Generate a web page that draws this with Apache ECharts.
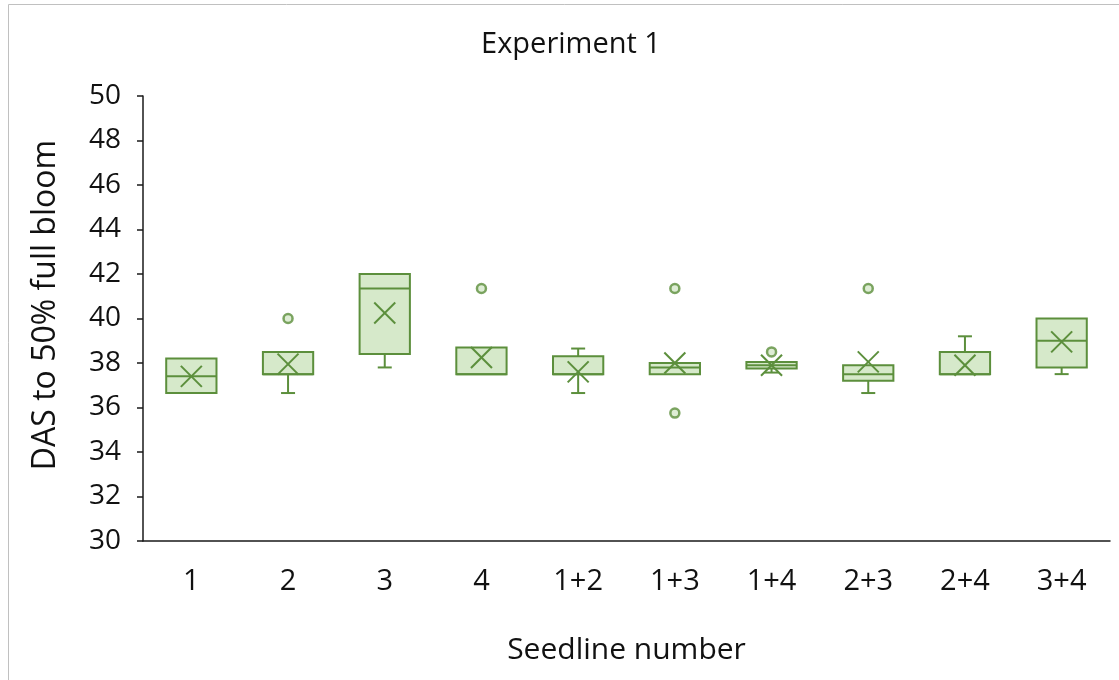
<!DOCTYPE html>
<html>
<head>
<meta charset="utf-8">
<script src="https://cdn.jsdelivr.net/npm/echarts@6/dist/echarts.min.js"></script>
<style>
html,body{margin:0;padding:0;background:#fff;}
#chart{width:1119px;height:680px;}
</style>
</head>
<body>
<div id="chart"></div>
<script>
// ---- data ----
var categories = ['1', '2', '3', '4', '1+2', '1+3', '1+4', '2+3', '2+4', '3+4'];
var whiskerLow = [36.65, 36.65, 37.8, 37.5, 36.65, 37.5, 37.57, 36.65, 37.5, 37.5];
var q1Values = [36.65, 37.5, 38.4, 37.5, 37.5, 37.5, 37.75, 37.2, 37.5, 37.8];
var medianValues = [37.4, 37.5, 41.35, 37.5, 37.5, 37.8, 37.9, 37.5, 37.5, 39.0];
var q3Values = [38.2, 38.5, 42.0, 38.7, 38.3, 38.0, 38.05, 37.9, 38.5, 40.0];
var whiskerHigh = [38.2, 38.5, 42.0, 38.7, 38.65, 38.0, 38.05, 37.9, 39.2, 40.0];
var meanValues = [37.4, 37.95, 40.25, 38.25, 37.6, 38.0, 37.9, 38.05, 37.9, 38.95];
var outlierCats = ['2', '4', '1+3', '1+3', '1+4', '2+3'];
var outlierValues = [40.0, 41.35, 41.35, 35.75, 38.5, 41.35];
var yTicks = { min: 30, max: 50, interval: 2 };
var titleText = 'Experiment 1';
var xAxisTitle = 'Seedline number';
var yAxisTitle = 'DAS to 50% full bloom';

var STROKE = '#5c8f3c';
var FILL = '#d6e9ca';
var FONT = 'Open Sans';
var TXT = '#111';

var boxData = categories.map(function (c, i) {
  return [i, whiskerLow[i], q1Values[i], medianValues[i], q3Values[i], whiskerHigh[i], meanValues[i]];
});
var outlierData = outlierCats.map(function (c, i) {
  return [c, outlierValues[i]];
});

function renderBox(params, api) {
  var idx = api.value(0);
  var pLow = api.coord([idx, api.value(1)]);
  var pQ1 = api.coord([idx, api.value(2)]);
  var pMed = api.coord([idx, api.value(3)]);
  var pQ3 = api.coord([idx, api.value(4)]);
  var pHigh = api.coord([idx, api.value(5)]);
  var pMean = api.coord([idx, api.value(6)]);
  var band = api.size([1, 0])[0];
  var hw = band * 0.26;
  var cap = 7;
  var xm = 10.5;
  var x = pQ1[0];
  var ls = { stroke: STROKE, lineWidth: 2, fill: null };
  var children = [
    { type: 'rect', shape: { x: x - hw, y: pQ3[1], width: hw * 2, height: pQ1[1] - pQ3[1] },
      style: { fill: FILL, stroke: STROKE, lineWidth: 2 } },
    { type: 'line', shape: { x1: x - hw, y1: pMed[1], x2: x + hw, y2: pMed[1] }, style: ls },
    { type: 'line', shape: { x1: x, y1: pQ3[1], x2: x, y2: pHigh[1] }, style: ls },
    { type: 'line', shape: { x1: x, y1: pQ1[1], x2: x, y2: pLow[1] }, style: ls }
  ];
  if (Math.abs(pHigh[1] - pQ3[1]) > 1) {
    children.push({ type: 'line', shape: { x1: x - cap, y1: pHigh[1], x2: x + cap, y2: pHigh[1] }, style: ls });
  }
  if (Math.abs(pLow[1] - pQ1[1]) > 1) {
    children.push({ type: 'line', shape: { x1: x - cap, y1: pLow[1], x2: x + cap, y2: pLow[1] }, style: ls });
  }
  children.push({ type: 'line', shape: { x1: x - xm, y1: pMean[1] - xm, x2: x + xm, y2: pMean[1] + xm }, style: ls });
  children.push({ type: 'line', shape: { x1: x - xm, y1: pMean[1] + xm, x2: x + xm, y2: pMean[1] - xm }, style: ls });
  return { type: 'group', children: children };
}

var chart = echarts.init(document.getElementById('chart'), null, { renderer: 'canvas' });
chart.setOption({
  animation: false,
  backgroundColor: '#fff',
  textStyle: { fontFamily: FONT },
  title: {
    text: titleText,
    left: 566,
    top: 25,
    textAlign: 'center',
    textStyle: { fontFamily: FONT, fontSize: 29, fontWeight: 'normal', color: TXT }
  },
  graphic: [
    {
      type: 'rect', z: -10,
      shape: { x: 8.5, y: 4.5, width: 1200, height: 800 },
      style: { fill: null, stroke: '#c0c0c0', lineWidth: 1 }
    },
    {
      type: 'text',
      x: 46, y: 305,
      rotation: Math.PI / 2,
      style: {
        text: yAxisTitle,
        fontFamily: FONT, fontSize: 32, fill: TXT,
        align: 'center', verticalAlign: 'middle'
      }
    }
  ],
  grid: { left: 143, right: 9, top: 96, bottom: 139 },
  xAxis: {
    type: 'category',
    data: categories,
    name: xAxisTitle,
    nameLocation: 'middle',
    nameGap: 94,
    nameTextStyle: { fontFamily: FONT, fontSize: 30, color: TXT },
    axisLine: { lineStyle: { color: '#1a1a1a', width: 1.5 } },
    axisTick: { show: false },
    axisLabel: { fontFamily: FONT, fontSize: 29, color: TXT, margin: 26 },
    splitLine: { show: false }
  },
  yAxis: {
    type: 'value',
    min: yTicks.min,
    max: yTicks.max,
    interval: yTicks.interval,
    axisLine: { show: true, lineStyle: { color: '#1a1a1a', width: 1.5 } },
    axisTick: { show: true, length: 6, lineStyle: { color: '#1a1a1a', width: 1.5 } },
    axisLabel: { fontFamily: FONT, fontSize: 28, color: TXT, margin: 22 },
    splitLine: { show: false }
  },
  series: [
    {
      type: 'custom',
      renderItem: renderBox,
      encode: { x: 0, y: [1, 2, 3, 4, 5, 6] },
      data: boxData,
      z: 2
    },
    {
      type: 'scatter',
      data: outlierData,
      symbol: 'circle',
      symbolSize: 9,
      itemStyle: { color: FILL, borderColor: STROKE, borderWidth: 2.5 },
      z: 3
    }
  ]
});
</script>
</body>
</html>
